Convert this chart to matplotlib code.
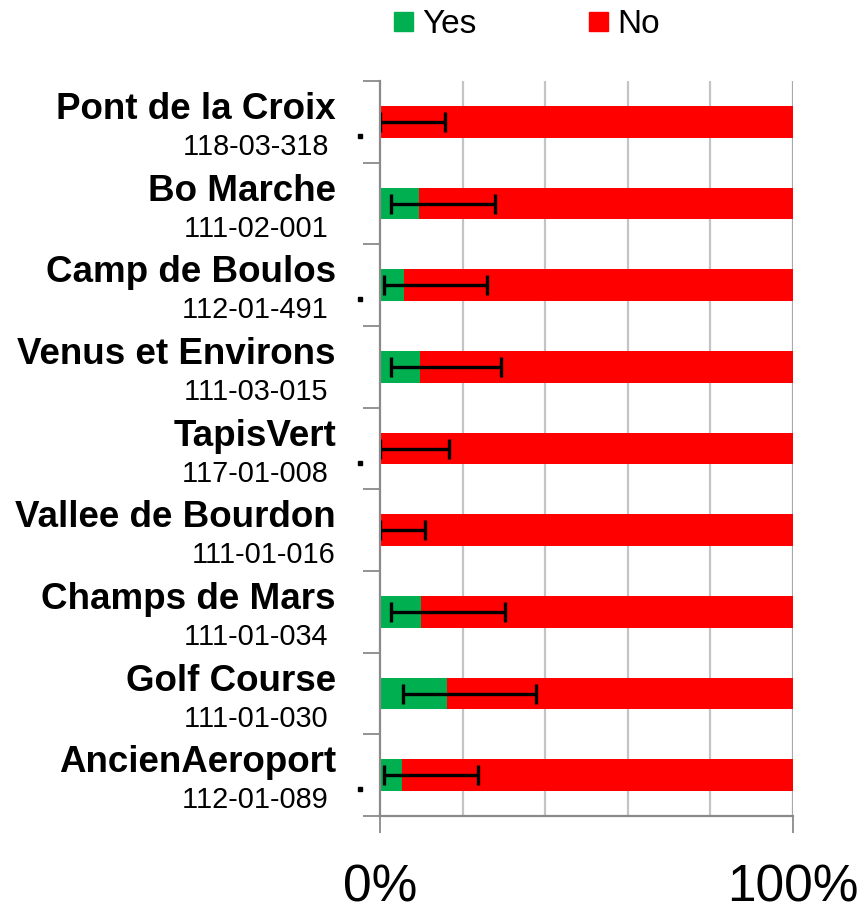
import numpy as np
import matplotlib
matplotlib.use("Agg")
import matplotlib.pyplot as plt
from matplotlib.patches import Rectangle
from matplotlib.transforms import blended_transform_factory

# site names and codes (top to bottom)
names = ["Pont de la Croix", "Bo Marche", "Camp de Boulos", "Venus et Environs",
         "TapisVert", "Vallee de Bourdon", "Champs de Mars", "Golf Course",
         "AncienAeroport"]
codes = ["118-03-318 ", "111-02-001 ", "112-01-491 ", "111-03-015 ",
         "117-01-008 ", "111-01-016", "111-01-034 ", "111-01-030 ",
         "112-01-089 "]
has_dot = [True, False, True, False, True, False, False, False, True]

# percent answering yes, with confidence interval
yes_pct = np.array([0.0, 9.4, 5.8, 9.7, 0.0, 0.0, 9.9, 16.2, 5.3])
ci_low = np.array([0.0, 2.7, 0.9, 2.6, 0.0, 0.0, 2.7, 5.6, 1.0])
ci_high = np.array([15.7, 27.8, 25.9, 29.2, 16.7, 10.9, 30.3, 37.8, 23.7])
no_pct = 100 - yes_pct

GREEN = "#00B050"
RED = "#FF0000"
AXIS = "#8a8a8a"
GRID = "#c4c4c4"

plt.rcParams["font.family"] = ["Liberation Sans", "DejaVu Sans"]

W, H = 862, 913
fig = plt.figure(figsize=(W / 100, H / 100), dpi=100)
ax = fig.add_axes([380 / W, 1 - 816 / H, (793 - 380) / W, (816 - 81) / H])

y = np.arange(len(names))
bar_h = 0.39
ax.barh(y, yes_pct, height=bar_h, color=GREEN, zorder=2)
ax.barh(y, no_pct, left=yes_pct, height=bar_h, color=RED, zorder=2)
ax.errorbar(yes_pct, y, xerr=[yes_pct - ci_low, ci_high - yes_pct], fmt="none",
            ecolor="black", elinewidth=2.4, capsize=7, capthick=2.4, zorder=3)

ax.set_xlim(0, 100)
ax.set_ylim(len(names) - 0.5, -0.5)

# category axis: ticks at band boundaries, no labels
ax.set_yticks(np.arange(len(names) + 1) - 0.5)
ax.set_yticklabels([])
ax.tick_params(axis="y", direction="out", length=12.5, width=1.3, color=AXIS)

# value axis: 0% and 100% only, grid every 20%
ax.set_xticks([0, 100])
ax.set_xticklabels(["0%", "100%"], fontsize=37)
ax.tick_params(axis="x", direction="out", length=12.5, width=1.3, color=AXIS, pad=22)
for gx in [20, 40, 60, 80]:
    ax.axvline(gx, color=GRID, lw=1.6, zorder=1)
ax.axvline(100, color="#a8a8a8", lw=1.6, zorder=1)

for side in ["top", "right"]:
    ax.spines[side].set_visible(False)
for side in ["left", "bottom"]:
    ax.spines[side].set_color(AXIS)
    ax.spines[side].set_linewidth(1.6)
    ax.spines[side].set_zorder(4)

# two line category labels
tr = blended_transform_factory(fig.transFigure, ax.transData)
for i, (nm, cd) in enumerate(zip(names, codes)):
    top = i - 0.5
    ax.text(336 / W, top + 38 / 81.67, nm, transform=tr, ha="right", va="baseline",
            fontsize=26.5, fontweight="bold", clip_on=False)
    ax.text(336 / W, top + 74 / 81.67, cd, transform=tr, ha="right", va="baseline",
            fontsize=20.8, clip_on=False)
    if has_dot[i]:
        ax.plot([360 / W], [top + 55 / 81.67], marker="s", ms=2.6, color="black",
                transform=tr, clip_on=False)

# legend
fig.patches.append(Rectangle((394 / W, 1 - 31 / H), 19 / W, 19 / H, color=GREEN,
                             transform=fig.transFigure))
fig.text(422 / W, 1 - 33 / H, "Yes", fontsize=24, va="baseline", ha="left")
fig.patches.append(Rectangle((589 / W, 1 - 31 / H), 19 / W, 19 / H, color=RED,
                             transform=fig.transFigure))
fig.text(617 / W, 1 - 33 / H, "No", fontsize=24, va="baseline", ha="left")

fig.savefig("out.png", dpi=100)
